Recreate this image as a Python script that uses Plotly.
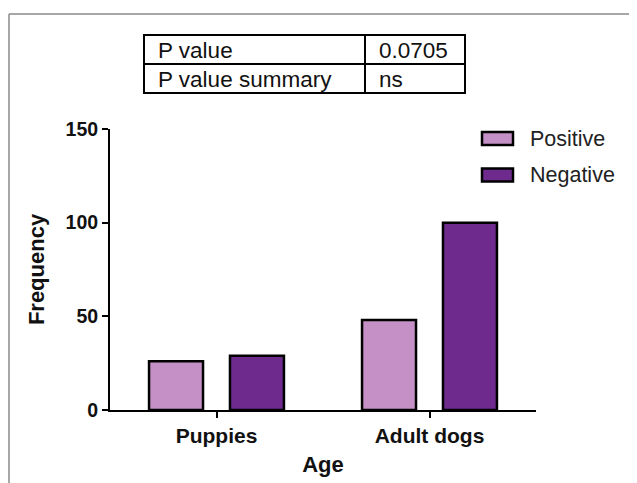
import plotly.graph_objects as go

# ---------------- data ----------------
categories = ["Puppies", "Adult dogs"]
series_names = ["Positive", "Negative"]
positive = [26, 48]
negative = [29, 100]
y_ticks = [0, 50, 100, 150]
table_labels = ["P value", "P value summary"]
table_values = ["0.0705", "ns"]
x_title = "Age"
y_title = "Frequency"

# ---------------- style ----------------
# page body has an 8px margin, so the figure is 8px smaller than the window
W, H = 629, 475
L, R, T, B = 102, 101, 2, 73
PW, PH = W - L - R, H - T - B
PLOT_X0 = 110   # plot-area left edge in window pixels
PLOT_Y1 = 410   # plot-area bottom edge in window pixels
FONT = "Arial, Liberation Sans, sans-serif"
colors = ["#C490C6", "#6E2A8C"]


def fx(px):
    return (px - PLOT_X0) / PW


def fy(py):
    return (PLOT_Y1 - py) / PH


y_top_px = 129
ydom_top = fy(y_top_px)

fig = go.Figure()
for name, vals, col in zip(series_names, [positive, negative], colors):
    fig.add_trace(go.Bar(
        x=categories, y=vals, name=name,
        marker=dict(color=col, line=dict(color="black", width=2.5)),
        showlegend=False,
    ))

shapes = []
annotations = []

# figure border (top + left only)
shapes.append(dict(type="line", xref="paper", yref="paper",
                   x0=fx(9), x1=fx(645), y0=fy(14), y1=fy(14),
                   line=dict(color="#8a8a8a", width=1.5)))
shapes.append(dict(type="line", xref="paper", yref="paper",
                   x0=fx(9), x1=fx(9), y0=fy(14), y1=fy(495),
                   line=dict(color="#8a8a8a", width=1.5)))

# table
tx0, tx1, tmid = 144, 465, 365
ty0, ty1 = 35, 93
row_h = (ty1 - ty0) / len(table_labels)
shapes.append(dict(type="rect", xref="paper", yref="paper",
                   x0=fx(tx0), x1=fx(tx1), y0=fy(ty0), y1=fy(ty1),
                   line=dict(color="black", width=2)))
shapes.append(dict(type="line", xref="paper", yref="paper",
                   x0=fx(tmid), x1=fx(tmid), y0=fy(ty0), y1=fy(ty1),
                   line=dict(color="black", width=2)))
for i in range(1, len(table_labels)):
    yy = ty0 + i * row_h
    shapes.append(dict(type="line", xref="paper", yref="paper",
                       x0=fx(tx0), x1=fx(tx1), y0=fy(yy), y1=fy(yy),
                       line=dict(color="black", width=2)))
for i, (lab, val) in enumerate(zip(table_labels, table_values)):
    yc = ty0 + (i + 0.5) * row_h + 1
    annotations.append(dict(xref="paper", yref="paper", x=fx(tx0 + 12), y=fy(yc),
                            text=lab, showarrow=False, xanchor="left", yanchor="middle",
                            font=dict(family=FONT, size=22.5, color="#111")))
    annotations.append(dict(xref="paper", yref="paper", x=fx(tmid + 12), y=fy(yc),
                            text=val, showarrow=False, xanchor="left", yanchor="middle",
                            font=dict(family=FONT, size=22.5, color="#111")))

# custom legend
leg_y = [138.5, 175]
for name, col, yc in zip(series_names, colors, leg_y):
    shapes.append(dict(type="rect", xref="paper", yref="paper",
                       x0=fx(482), x1=fx(513), y0=fy(yc - 6.5), y1=fy(yc + 6.5),
                       fillcolor=col, line=dict(color="black", width=2.5)))
    annotations.append(dict(xref="paper", yref="paper", x=fx(528), y=fy(yc),
                            text=name, showarrow=False, xanchor="left", yanchor="middle",
                            font=dict(family=FONT, size=21.5, color="#222")))

fig.update_layout(
    width=W, height=H,
    margin=dict(l=L, r=R, t=T, b=B, autoexpand=False),
    paper_bgcolor="white", plot_bgcolor="white",
    barmode="group", bargap=0.24, bargroupgap=0.333,
    shapes=shapes, annotations=annotations,
    showlegend=False,
    xaxis=dict(
        type="category", range=[-0.5, 1.5],
        showline=True, linecolor="black", linewidth=2,
        ticks="outside", ticklen=6, tickwidth=2, tickcolor="black",
        showgrid=False, zeroline=False,
        tickfont=dict(family=FONT, size=21, color="#111", weight="bold"),
        title=dict(text=x_title, standoff=10,
                   font=dict(family=FONT, size=22, color="#111", weight="bold")),
    ),
    yaxis=dict(
        domain=[0, ydom_top], range=[0, 150],
        tickmode="array", tickvals=y_ticks,
        showline=True, linecolor="black", linewidth=2,
        ticks="outside", ticklen=6, tickwidth=2, tickcolor="black",
        showgrid=False, zeroline=False,
        tickfont=dict(family=FONT, size=19.5, color="#111", weight="bold"),
        title=dict(text=y_title, standoff=15,
                   font=dict(family=FONT, size=22, color="#111", weight="bold")),
    ),
)

fig.write_html("out.html")
